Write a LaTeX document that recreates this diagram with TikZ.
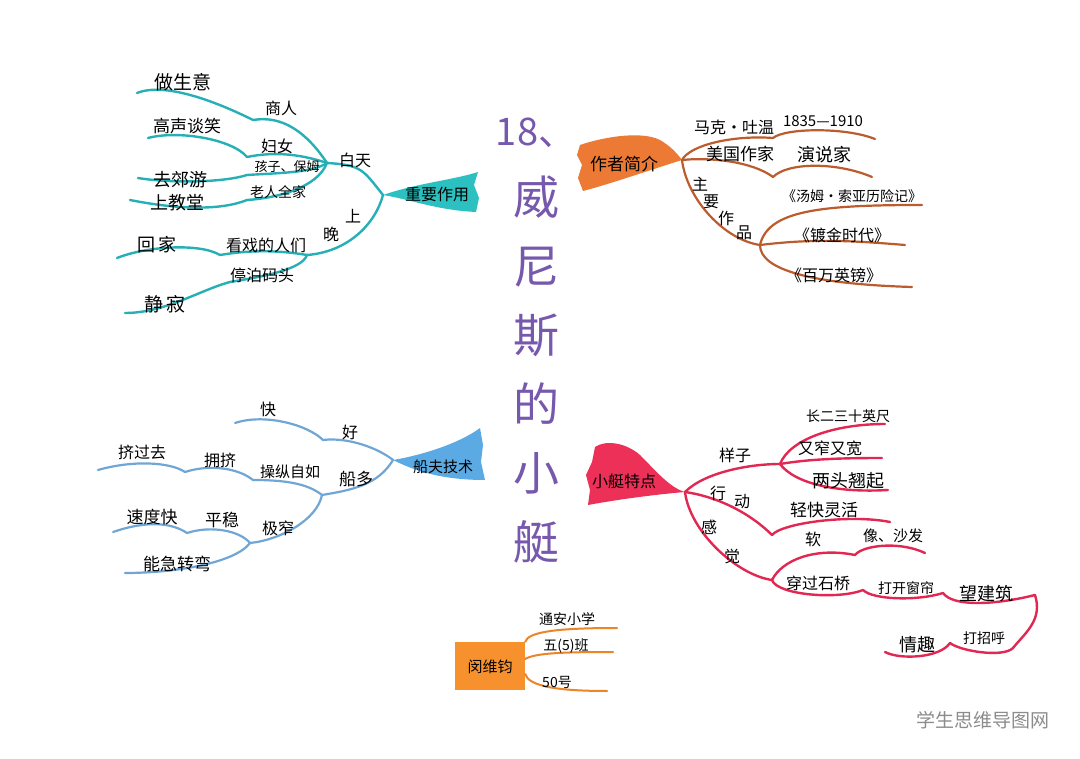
\documentclass[tikz,border=0pt]{standalone}
\usepackage{fontspec}
\setmainfont{Noto Sans CJK SC}
\usetikzlibrary{calc, positioning}

\begin{document}
\begin{tikzpicture}[x=1pt,y=-1pt,
  lbl/.style={font=\fontsize{#1}{#1}\selectfont, inner sep=0pt},
  lbl/.default=16,
  tealline/.style={branchTeal, line width=2.4pt, line cap=round},
  brownline/.style={branchBrown, line width=2.2pt, line cap=round},
  blueline/.style={branchBlue, line width=2.2pt, line cap=round},
  redline/.style={branchRed, line width=2.4pt, line cap=round},
  orangeline/.style={branchOrange, line width=2pt, line cap=round},
  titletext/.style={font=\fontsize{46}{69}\selectfont, text=titlePurple, align=center, inner sep=0pt}]
  \definecolor{branchTeal}{RGB}{38,176,182}
  \definecolor{flagTeal}{RGB}{45,192,192}
  \definecolor{branchBrown}{RGB}{188,92,45}
  \definecolor{flagBrown}{RGB}{236,122,52}
  \definecolor{branchBlue}{RGB}{112,166,214}
  \definecolor{flagBlue}{RGB}{92,170,228}
  \definecolor{branchRed}{RGB}{226,40,82}
  \definecolor{flagRed}{RGB}{236,48,88}
  \definecolor{branchOrange}{RGB}{236,132,40}
  \definecolor{boxOrange}{RGB}{247,145,45}
  \definecolor{titlePurple}{RGB}{118,88,172}
  \useasboundingbox (0,0) rectangle (1080,759);
  \fill[white] (0,0) rectangle (1080,759);

  % title
  \node[titletext] (title) at (536,341) {{\fontsize{38}{69}\selectfont 18、}\\威\\尼\\斯\\的\\小\\艇};

  % ---- 重要作用
  \coordinate (zy) at (383,195);
  \fill[flagTeal] (zy) .. controls +(35,-12) and +(-25,8) .. (478,172) -- (474,185) -- (479,198)
    -- (476,212) .. controls +(-40,-2) and +(30,5) .. (zy) -- cycle;
  \node[lbl] (zyText) at (437,194) {重要作用};
  \coordinate (bt) at (327,163);
  \coordinate (ws) at (307,255);
  \draw[tealline] (bt) .. controls +(35,2) and +(-20,-25) .. (zy);
  \draw[tealline] (zy) .. controls +(-8,30) and +(40,-3) .. (ws);
  \node[lbl] (btText) at (355,160) {白天};
  \foreach \ch/\px/\py [count=\i] in {晚/331/234, 上/353/216}
    \node[lbl] (wsText\i) at (\px,\py) {\ch};
  \coordinate (sr) at (253,120);
  \coordinate (sy) at (137,93);
  \draw[tealline] (bt) .. controls +(-20,-30) and +(30,-5) .. (sr);
  \draw[tealline] (sr) .. controls +(-30,-15) and +(30,-12) .. (sy);
  \node[lbl] (srText) at (281,108) {商人};
  \node[lbl=19] (syText) at (183,82) {做生意};
  \coordinate (fn) at (247,157);
  \coordinate (gs) at (148,138);
  \draw[tealline] (bt) .. controls +(-30,-10) and +(25,-5) .. (fn);
  \draw[tealline] (fn) .. controls +(-15,-18) and +(30,-8) .. (gs);
  \node[lbl] (fnText) at (277,146) {妇女};
  \node[lbl=17] (gsText) at (187,126) {高声谈笑};
  \coordinate (hz) at (247,175);
  \coordinate (qj) at (138,178);
  \draw[tealline] (bt) .. controls +(-15,10) and +(30,-2) .. (hz);
  \draw[tealline] (hz) .. controls +(-25,8) and +(30,5) .. (qj);
  \node[lbl=13] (hzText) at (287,167) {孩子、保姆};
  \node[lbl=18] (qjText) at (180,180) {去郊游};
  \coordinate (lr) at (247,200);
  \coordinate (sj) at (130,200);
  \draw[tealline] (bt) .. controls +(-10,25) and +(30,-2) .. (lr);
  \draw[tealline] (lr) .. controls +(-30,12) and +(40,8) .. (sj);
  \node[lbl=14] (lrText) at (278,192) {老人全家};
  \node[lbl=18] (sjText) at (177,203) {上教堂};
  \coordinate (kx) at (220,255);
  \coordinate (hj) at (117,258);
  \draw[tealline] (ws) .. controls +(-30,-5) and +(30,-5) .. (kx);
  \draw[tealline] (kx) .. controls +(-20,-12) and +(30,-12) .. (hj);
  \node[lbl] (kxText) at (266,245) {看戏的人们};
  \node[lbl=18] (hjText) at (157,245) {回\,家};
  \coordinate (tb) at (230,282);
  \coordinate (jq) at (125,313);
  \draw[tealline] (ws) .. controls +(-5,15) and +(30,-5) .. (tb);
  \draw[tealline] (tb) .. controls +(-30,8) and +(40,0) .. (jq);
  \node[lbl] (tbText) at (262,275) {停泊码头};
  \node[lbl=19] (jqText) at (165,304) {静\,寂};

  % ---- 作者简介
  \coordinate (zz) at (682,160);
  \fill[flagBrown] (580,145) .. controls (600,138) and (640,130) .. (660,140)
    .. controls (670,146) and (676,152) .. (zz) .. controls (650,170) and (610,184) .. (583,191)
    -- (578,178) -- (582,165) -- (577,155) -- cycle;
  \node[lbl=17] (zzText) at (624,164) {作者简介};
  \coordinate (mk) at (773,138);
  \coordinate (nd) at (875,139);
  \draw[brownline] (zz) .. controls +(8,-15) and +(-40,-3) .. (mk);
  \draw[brownline] (mk) .. controls +(12,-10) and +(-30,-12) .. (nd);
  \node[lbl] (mkText) at (734,127) {马克·吐温};
  \node[lbl=15] (ndText) at (823,121) {1835—1910};
  \coordinate (mg) at (773,177);
  \coordinate (ys) at (872,177);
  \draw[brownline] (zz) .. controls +(30,-3) and +(-20,-15) .. (mg);
  \draw[brownline] (mg) .. controls +(15,-15) and +(-35,-15) .. (ys);
  \node[lbl=17] (mgText) at (740,154) {美国作家};
  \node[lbl=18] (ysText) at (824,155) {演说家};
  \coordinate (zp) at (760,245);
  \draw[brownline] (zz) .. controls +(5,40) and +(-35,-5) .. (zp);
  \foreach \ch/\px/\py [count=\i] in {主/700/184, 要/711/202, 作/726/218, 品/744/233}
    \node[lbl] (zpText\i) at (\px,\py) {\ch};
  \coordinate (tm) at (922,205);
  \coordinate (jd) at (905,245);
  \coordinate (bw) at (912,287);
  \draw[brownline] (zp) .. controls +(8,-35) and +(-100,0) .. (tm);
  \draw[brownline] (zp) .. controls +(50,-6) and +(-60,-5) .. (jd);
  \draw[brownline] (zp) .. controls +(0,25) and +(-100,-3) .. (bw);
  \node[lbl=14] (tmText) at (852,196) {《汤姆·索亚历险记》};
  \node[lbl] (jdText) at (842,235) {《镀金时代》};
  \node[lbl] (bwText) at (834,275) {《百万英镑》};

  % ---- 船夫技术
  \coordinate (cf) at (393,460);
  \fill[flagBlue] (cf) .. controls +(30,-5) and +(-20,15) .. (480,428) -- (483,445) -- (481,462)
    -- (485,480) .. controls +(-45,0) and +(20,10) .. (cf) -- cycle;
  \node[lbl=15] (cfText) at (443,467) {船夫技术};
  \coordinate (hao) at (323,440);
  \coordinate (kuai) at (235,423);
  \draw[blueline] (cf) .. controls +(-15,-12) and +(25,-3) .. (hao);
  \draw[blueline] (hao) .. controls +(-15,-15) and +(30,-10) .. (kuai);
  \node[lbl] (haoText) at (350,432) {好};
  \node[lbl] (kuaiText) at (268,409) {快};
  \coordinate (cd) at (322,495);
  \draw[blueline] (cf) .. controls +(-15,25) and +(30,-5) .. (cd);
  \node[lbl=17] (cdText) at (356,479) {船多};
  \coordinate (cz) at (253,480);
  \coordinate (yj) at (185,472);
  \coordinate (gq) at (98,470);
  \draw[blueline] (cd) .. controls +(-15,-12) and +(30,0) .. (cz);
  \draw[blueline] (cz) .. controls +(-15,-12) and +(25,-8) .. (yj);
  \draw[blueline] (yj) .. controls +(-15,-10) and +(35,-10) .. (gq);
  \node[lbl=15] (czText) at (290,472) {操纵自如};
  \node[lbl] (yjText) at (220,460) {拥挤};
  \node[lbl] (gqText) at (142,452) {挤过去};
  \coordinate (jz) at (250,543);
  \coordinate (ps) at (187,533);
  \coordinate (sd) at (113,532);
  \coordinate (jw) at (125,573);
  \draw[blueline] (cd) .. controls +(-5,25) and +(30,-3) .. (jz);
  \draw[blueline] (jz) .. controls +(-10,-12) and +(25,-8) .. (ps);
  \draw[blueline] (ps) .. controls +(-15,-10) and +(35,-12) .. (sd);
  \draw[blueline] (jz) .. controls +(-15,20) and +(50,0) .. (jw);
  \node[lbl] (jzText) at (278,528) {极窄};
  \node[lbl=17] (psText) at (222,520) {平稳};
  \node[lbl=17] (sdText) at (152,517) {速度快};
  \node[lbl=17] (jwText) at (177,564) {能急转弯};

  % ---- 小艇特点
  \coordinate (xt) at (685,492);
  \fill[flagRed] (595,447) .. controls (605,440) and (625,442) .. (640,455)
    .. controls (655,470) and (670,488) .. (xt) .. controls (650,495) and (615,500) .. (588,505)
    -- (590,490) -- (586,475) -- (592,462) -- cycle;
  \node[lbl=16] (xtText) at (624,481) {小艇特点};
  \coordinate (yz) at (780,464);
  \draw[redline] (xt) .. controls +(20,-20) and +(-30,0) .. (yz);
  \node[lbl] (yzText) at (735,455) {样子};
  \coordinate (cc) at (885,424);
  \coordinate (yk) at (882,458);
  \coordinate (lt) at (888,490);
  \draw[redline] (yz) .. controls +(10,-25) and +(-50,0) .. (cc);
  \draw[redline] (yz) .. controls +(30,-5) and +(-40,0) .. (yk);
  \draw[redline] (yz) .. controls +(15,20) and +(-50,3) .. (lt);
  \node[lbl=14] (ccText) at (848,416) {长二三十英尺};
  \node[lbl] (ykText) at (830,448) {又窄又宽};
  \node[lbl=18] (ltText) at (848,481) {两头翘起};
  \coordinate (xd) at (772,535);
  \coordinate (qk) at (890,522);
  \draw[redline] (xt) .. controls +(35,5) and +(-20,-20) .. (xd);
  \draw[redline] (xd) .. controls +(10,-12) and +(-40,-8) .. (qk);
  \foreach \ch/\px/\py [count=\i] in {行/718/493, 动/742/502}
    \node[lbl] (xdText\i) at (\px,\py) {\ch};
  \node[lbl=17] (qkText) at (824,510) {轻快灵活};
  \coordinate (gj) at (772,580);
  \draw[redline] (xt) .. controls +(5,40) and +(-35,-5) .. (gj);
  \foreach \ch/\px/\py [count=\i] in {感/709/527, 觉/732/556}
    \node[lbl] (gjText\i) at (\px,\py) {\ch};
  \coordinate (ruan) at (855,555);
  \coordinate (xs) at (925,553);
  \draw[redline] (gj) .. controls +(10,-20) and +(-40,-8) .. (ruan);
  \draw[redline] (ruan) .. controls +(8,-10) and +(-25,-12) .. (xs);
  \node[lbl] (ruanText) at (813,539) {软};
  \node[lbl=15] (xsText) at (893,536) {像、沙发};
  \coordinate (cg) at (863,590);
  \coordinate (dk) at (943,593);
  \coordinate (wj) at (1035,595);
  \coordinate (zh) at (1013,648);
  \coordinate (qq) at (950,643);
  \coordinate (qw) at (885,652);
  \draw[redline] (gj) .. controls +(5,15) and +(-25,10) .. (cg);
  \draw[redline] (cg) .. controls +(10,10) and +(-25,8) .. (dk);
  \draw[redline] (dk) .. controls +(10,14) and +(-40,10) .. (wj);
  \draw[redline] (wj) .. controls +(8,25) and +(12,-15) .. (zh);
  \draw[redline] (zh) .. controls +(-10,10) and +(10,8) .. (qq);
  \draw[redline] (qq) .. controls +(-10,15) and +(15,8) .. (qw);
  \node[lbl] (cgText) at (818,583) {穿过石桥};
  \node[lbl=14] (dkText) at (906,588) {打开窗帘};
  \node[lbl=18] (wjText) at (986,594) {望建筑};
  \node[lbl=14] (zhText) at (984,638) {打招呼};
  \node[lbl=18] (qqText) at (917,645) {情趣};

  % ---- name box
  \node[fill=boxOrange, minimum width=70pt, minimum height=48pt, inner sep=0pt,
    font=\fontsize{15}{15}\selectfont, text depth=0pt] (mzBox) at (490,666) {闵维钧};
  \coordinate (ta) at (617,628);
  \coordinate (wb) at (613,652);
  \coordinate (fh) at (607,691);
  \draw[orangeline] (mzBox.north east) .. controls +(3,-10) and +(-60,0) .. (ta);
  \draw[orangeline] ([yshift=7pt]mzBox.east) .. controls +(10,-6) and +(-50,0) .. (wb);
  \draw[orangeline] ([yshift=-8pt]mzBox.east) .. controls +(3,12) and +(-50,0) .. (fh);
  \node[lbl=14] (taText) at (567,619) {通安小学};
  \node[lbl=14] (wbText) at (566,646) {五(5)班};
  \node[lbl=14] (fhText) at (557,682) {50号};

  % watermark
  \node[font=\fontsize{19}{19}\selectfont, text=black!45] (mark) at (983,720) {学生思维导图网};
\end{tikzpicture}
\end{document}
